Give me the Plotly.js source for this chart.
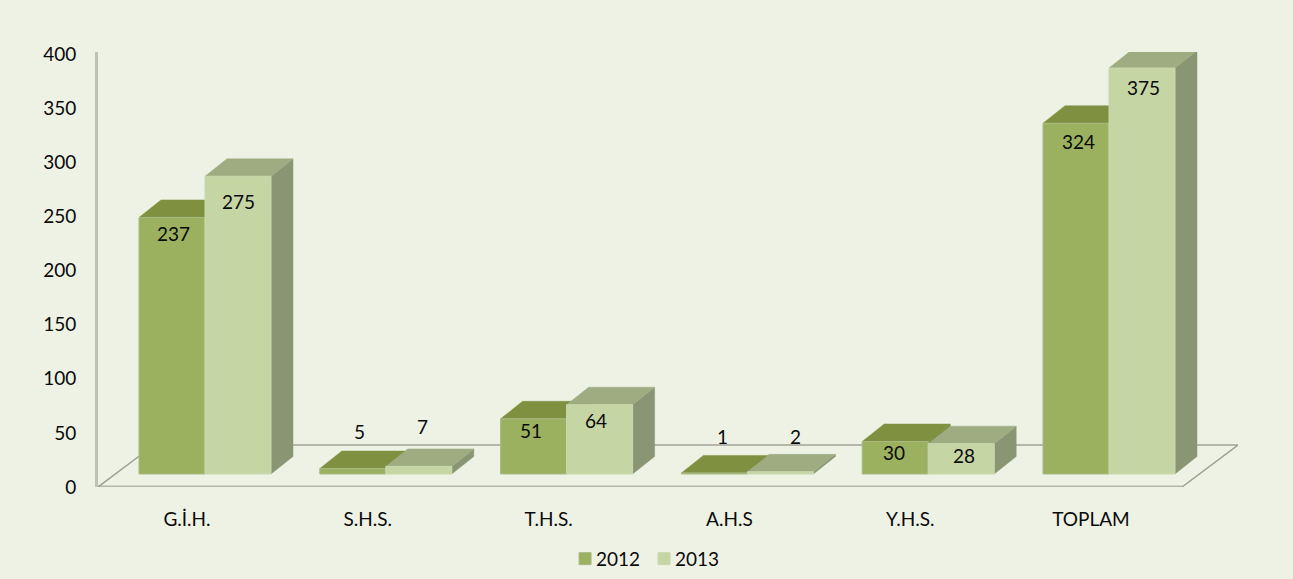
<!DOCTYPE html>
<html><head><meta charset="utf-8">
<script src="https://cdn.plot.ly/plotly-3.0.1.min.js"></script>
<style>html,body{margin:0;padding:0;background:#EEF2E4}</style>
</head><body><div id="chart" style="width:1293px;height:579px"></div>
<script>
// Data
const categories = ['G.İ.H.', 'S.H.S.', 'T.H.S.', 'A.H.S', 'Y.H.S.', 'TOPLAM'];
const values2012 = [237, 5, 51, 1, 30, 324];
const values2013 = [275, 7, 64, 2, 28, 375];
const yTicks = [0, 50, 100, 150, 200, 250, 300, 350, 400];

// Projection constants of the pseudo-3D look (axis units)
const pxX = 180.8, pxY = 1.0825;
const W = 1293, H = 579, L = 98, R = 1238, T = 52, B = 487, CAT0 = 187;
const xr = [(L - CAT0) / pxX, (R - CAT0) / pxX];
const yr = [0, (B - T) / pxY];
const barW = 66 / pxX, split = 18 / pxX;      // bar width, offset of the pair's middle from the tick
const base = 13 / pxY;                        // front plane of the bars above the floor's front edge
const depthX = 22 / pxX, depthY = 17.5 / pxY; // bar depth
const floorX = 56 / pxX, floorY = 42 / pxY;   // floor depth
const floorRight = (1182 - CAT0) / pxX;

const C = {bg:'#EEF2E4', f12:'#9CB160', f13:'#C5D5A4', t12:'#7F9141', t13:'#9FAC82', s12:'#7A8A42', s13:'#8A9673',
           line:'#B3B6A9', diag:'#9C9F94', edge12:'#A9B983', edge13:'#CBD8AE', text:'#0A0A0A'};
const FONT = 'Lato, Carlito, Calibri, sans-serif';

function faces(vals, off) {
  const top = {x: [], y: []}, side = {x: [], y: []};
  vals.forEach((v, i) => {
    const x0 = i + split + off, x1 = x0 + barW, yT = base + v;
    top.x.push(x0, x1, x1 + depthX, x0 + depthX, x0, null);
    top.y.push(yT, yT, yT + depthY, yT + depthY, yT, null);
    side.x.push(x1, x1 + depthX, x1 + depthX, x1, x1, null);
    side.y.push(base, base + depthY, yT + depthY, yT, base, null);
  });
  return {top, side};
}
const poly = (p, color) => ({x: p.x, y: p.y, type: 'scatter', mode: 'lines', fill: 'toself', fillcolor: color,
  line: {color: color, width: 0.5}, showlegend: false, hoverinfo: 'skip', xaxis: 'x', yaxis: 'y', cliponaxis: false});
const F12 = faces(values2012, -barW), F13 = faces(values2013, 0);

const floorLine = (x, y, color, width) => ({x, y, type: 'scatter', mode: 'lines', line: {color, width},
  showlegend: false, hoverinfo: 'skip', cliponaxis: false});
const floorBack = floorLine([xr[0] + floorX, xr[1]], [floorY, floorY], C.line, 2.2);
const floorFront = floorLine([xr[0], floorRight], [0, 0], C.line, 2.8);
const floorDiag = floorLine([xr[0], xr[0] + floorX, null, floorRight, xr[1]], [0, floorY, null, 0, floorY], C.diag, 1.5);

const bar = (name, vals, off, color, edge) => ({
  name, type: 'bar', x: vals.map((_, i) => i + split + off + barW / 2), y: vals, base: base,
  width: barW, marker: {color, line: {color: edge, width: 1}}, xaxis: 'x2', yaxis: 'y2', hoverinfo: 'y'
});

const traces = [floorBack, floorFront, floorDiag,
  poly(F12.side, C.s12), poly(F12.top, C.t12), poly(F13.side, C.s13), poly(F13.top, C.t13),
  bar('2012', values2012, -barW, C.f12, C.edge12),
  bar('2013', values2013, 0, C.f13, C.edge13)];

// Where Excel placed each data label relative to the bar's top-centre (pixels)
const shift12x = [1, 7, -3, 8, -1, 2], shift12y = [-16, 37, -12, 36, -11, -18];
const shift13x = [0, 4, -4, 15, 3, 1], shift13y = [-25, 40, -16, 35, -12, -19];
const labelAnn = (vals, off, sx, sy) => vals.map((v, i) => ({
  x: i + split + off + barW / 2, y: base + v, xref: 'x', yref: 'y', text: String(v), showarrow: false,
  xshift: sx[i], yshift: sy[i], font: {family: FONT, size: 19, color: C.text}
}));

const layout = {
  width: W, height: H, paper_bgcolor: C.bg, plot_bgcolor: 'rgba(0,0,0,0)',
  margin: {l: L, r: W - R, t: T, b: H - B, pad: 0, autoexpand: false}, bargap: 0, barmode: 'overlay', hovermode: false,
  font: {family: FONT, size: 19, color: C.text},
  xaxis: {range: xr, tickmode: 'array', tickvals: categories.map((_, i) => i), ticktext: categories,
    showgrid: false, zeroline: false, showline: false, ticks: '', ticklabelstandoff: 19,
    tickfont: {family: FONT, size: 19, color: C.text}},
  yaxis: {range: yr, tickmode: 'array', tickvals: yTicks, showgrid: false, zeroline: false, showline: true,
    linecolor: '#BEC1B5', linewidth: 3, ticks: '', ticklabelstandoff: 15,
    tickfont: {family: FONT, size: 19, color: C.text}},
  xaxis2: {range: xr, overlaying: 'x', visible: false},
  yaxis2: {range: yr, overlaying: 'y', visible: false},
  legend: {orientation: 'h', x: 0.479, xref: 'paper', xanchor: 'center', y: -0.165, yanchor: 'middle', entrywidth: 34, entrywidthmode: 'pixels',
    font: {family: FONT, size: 19, color: C.text}, bgcolor: 'rgba(0,0,0,0)', traceorder: 'normal'},
  annotations: labelAnn(values2012, -barW, shift12x, shift12y).concat(labelAnn(values2013, 0, shift13x, shift13y))
};
Plotly.newPlot('chart', traces, layout, {displayModeBar: false, staticPlot: true}).then(() => {
  // tighter swatch-to-text gap of the original legend
  document.querySelectorAll('#chart .legendtext').forEach(t => t.setAttribute('x', 31));
});
</script></body></html>
